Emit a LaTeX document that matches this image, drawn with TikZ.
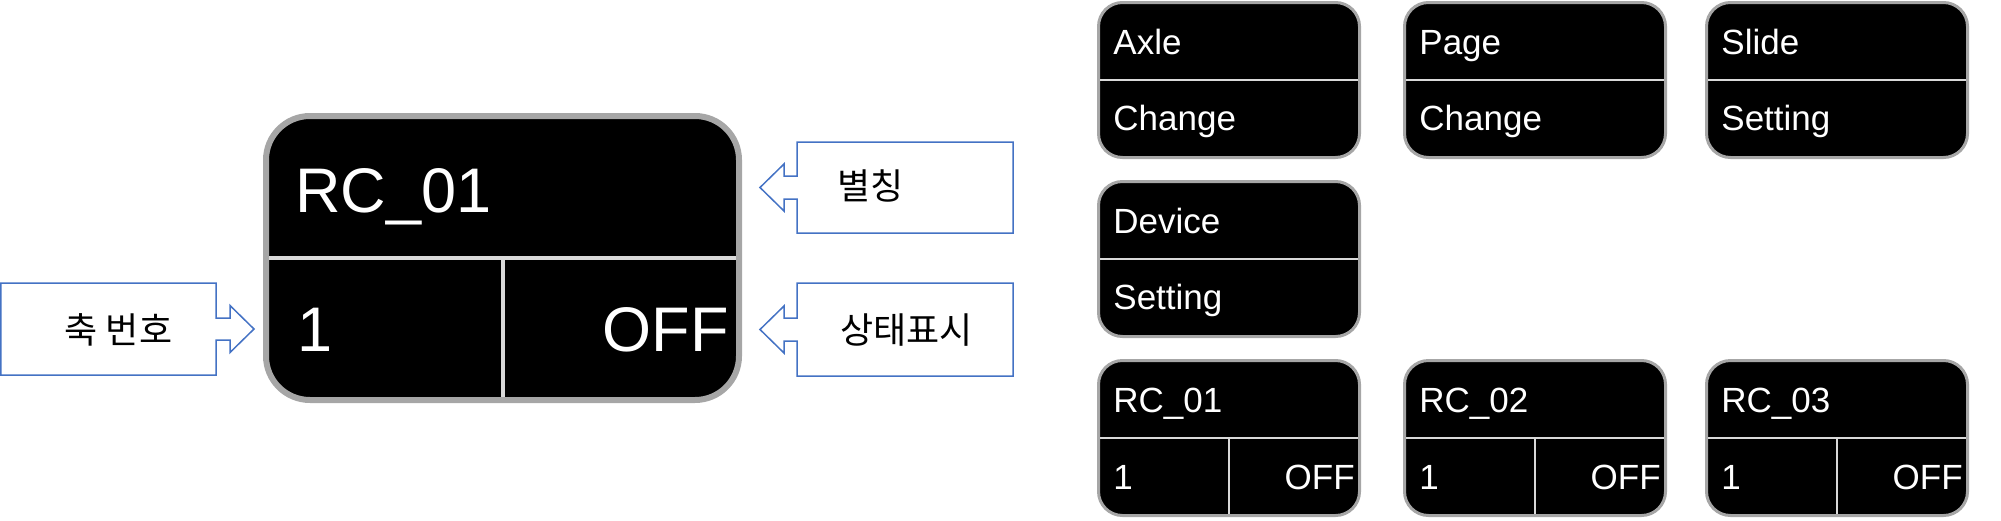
\documentclass[tikz,border=0pt]{standalone}
\usepackage{fontspec}
\setmainfont{Liberation Sans}
\newfontfamily\krfont{Noto Sans CJK KR}
\definecolor{bgray}{HTML}{A6A6A6}
\definecolor{dgray}{HTML}{D9D9D9}
\definecolor{cblue}{HTML}{4472C4}
\tikzset{
  sbox/.style={draw=bgray, line width=1.5pt, fill=black, rounded corners=12pt,
    minimum width=130.5pt, minimum height=77.5pt, inner sep=0pt, outer sep=0pt},
  bbox/.style={draw=bgray, line width=3pt, fill=black, rounded corners=22pt,
    minimum width=236.5pt, minimum height=142pt, inner sep=0pt, outer sep=0pt},
  sdiv/.style={draw=dgray, line width=1pt, shorten <=0.75pt, shorten >=0.75pt},
  bdiv/.style={draw=dgray, line width=2pt, shorten <=1.5pt, shorten >=1.5pt},
  stext/.style={text=white, font=\fontsize{17.5pt}{18pt}\selectfont, inner sep=0pt},
  btext/.style={text=white, font=\fontsize{31.5pt}{32pt}\selectfont, inner sep=0pt},
  callout/.style={draw=cblue, line width=0.75pt, fill=white, line join=miter},
  ktext/.style={font=\krfont\fontsize{18pt}{19pt}\selectfont, inner sep=0pt, text=black}
}
\newcommand{\mkTwoBox}[5]{%
  \node[sbox] (#1) at (#2+132,#3+79) {};
  \draw[sdiv] (#1.west) -- (#1.east);
  \node[stext, anchor=base west] (#1-a) at (#2+16,#3+53) {#4};
  \node[stext, anchor=base west] (#1-b) at (#2+16,#3+129) {#5};
}
\newcommand{\mkRcBox}[4]{%
  \node[sbox] (#1) at (#2+132,#3+79) {};
  \draw[sdiv] (#1.west) -- (#1.east);
  \draw[sdiv, shorten <=0pt] (#1.center) -- (#1.south);
  \node[stext, anchor=base west] (#1-a) at (#2+16,#3+53) {#4};
  \node[stext, anchor=base west] (#1-b) at (#2+16,#3+130) {1};
  \node[stext, anchor=base east] (#1-c) at (#2+258,#3+130) {OFF};
}
\begin{document}
\begin{tikzpicture}[x=0.5pt,y=-0.5pt]
\useasboundingbox (0,0) rectangle (2001,520);

% big box
\node[bbox] (big) at (502.5,258) {};
\draw[bdiv] (big.west) -- (big.east);
\draw[bdiv, shorten <=0pt] (big.center) -- (big.south);
\node[btext, anchor=base west] (bigtitle) at (295,212) {RC\_01};
\node[btext, anchor=base west] (bignum) at (297,351) {1};
\node[btext, anchor=base east] (bigstate) at (729,351) {OFF};

% callouts
\draw[callout] (0.75,283) -- (216,283) -- (216,318) -- (230,318) -- (230,305.5)
  -- (254,329) -- (230,352.5) -- (230,340) -- (216,340) -- (216,375) -- (0.75,375) -- cycle;
\node[ktext] (axisno) at (118.5,330) {축 번호};

\draw[callout] (1013,142) -- (797,142) -- (797,176) -- (784,176) -- (784,164)
  -- (760,187.5) -- (784,211) -- (784,199) -- (797,199) -- (797,233) -- (1013,233) -- cycle;
\node[ktext, anchor=west] (alias) at (837,186) {별칭};

\draw[callout] (1013,283) -- (797,283) -- (797,318) -- (784,318) -- (784,306)
  -- (760,329.5) -- (784,353) -- (784,341) -- (797,341) -- (797,376) -- (1013,376) -- cycle;
\node[ktext, anchor=west] (status) at (840,330) {상태표시};

% small boxes
\mkTwoBox{axle}{1097}{1}{Axle}{Change}
\mkTwoBox{page}{1403}{1}{Page}{Change}
\mkTwoBox{slide}{1705}{1}{Slide}{Setting}
\mkTwoBox{device}{1097}{180}{Device}{Setting}
\mkRcBox{rca}{1097}{359}{RC\_01}
\mkRcBox{rcb}{1403}{359}{RC\_02}
\mkRcBox{rcc}{1705}{359}{RC\_03}
\end{tikzpicture}
\end{document}
